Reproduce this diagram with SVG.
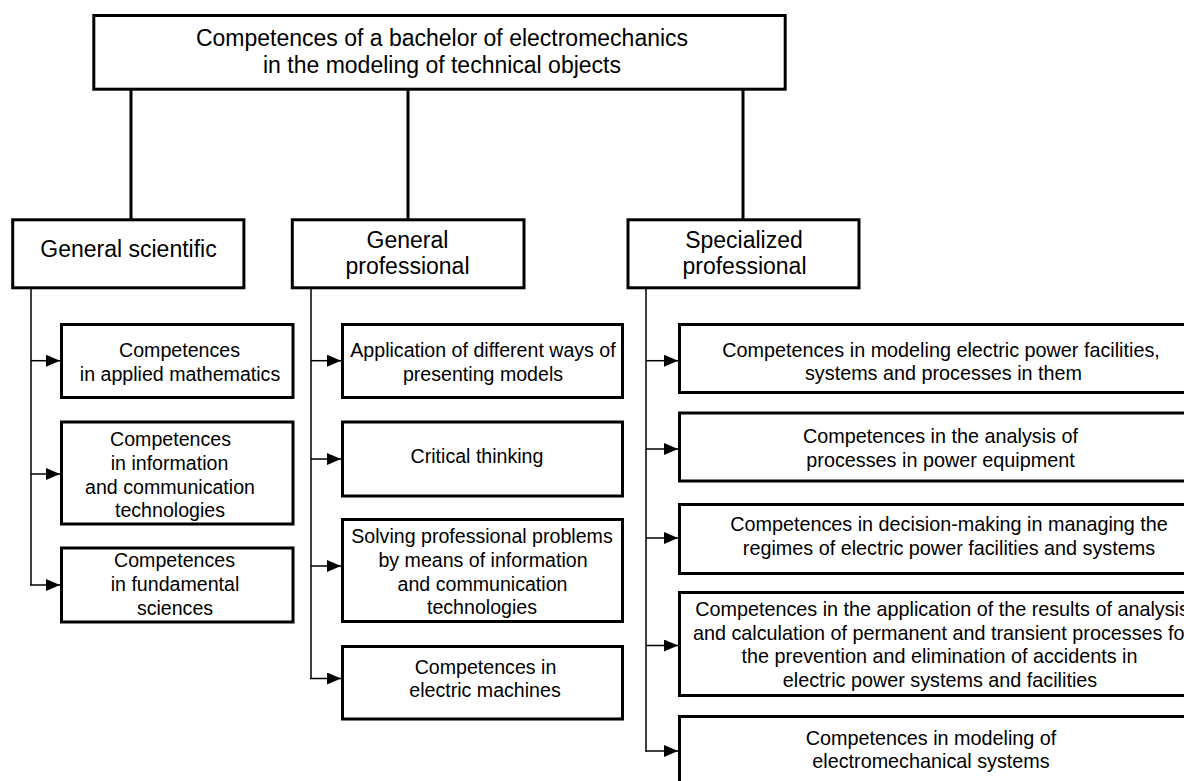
<svg xmlns="http://www.w3.org/2000/svg" width="1184" height="781" viewBox="0 0 1184 781">
<style>
  .box{fill:#fff;stroke:#000;stroke-width:3}
  .t{font-family:"Liberation Sans",Arial,sans-serif;fill:#000;text-anchor:middle}
  .big{font-size:23px}
  .sm{font-size:19.6px}
  .rt{font-size:19.8px}
  .trunk{stroke:#000;stroke-width:3;fill:none}
  .br{stroke:#000;stroke-width:1.5;fill:none}
  .ar{stroke:#000;stroke-width:1.5;fill:none;marker-end:url(#ah)}
</style>
<defs>
  <marker id="ah" markerUnits="userSpaceOnUse" markerWidth="14" markerHeight="12" refX="14" refY="6" orient="auto">
    <path d="M0,0 L14,6 L0,12 z" fill="#000"/>
  </marker>
</defs>
<rect width="1184" height="781" fill="#fff"/>
<g id="connectors">
  <line class="trunk" x1="131" y1="90" x2="131" y2="219"/>
  <line class="trunk" x1="408" y1="90" x2="408" y2="219"/>
  <line class="trunk" x1="743" y1="90" x2="743" y2="219"/>
  <line class="br" x1="31" y1="289" x2="31" y2="585.5"/>
  <line class="br" x1="311" y1="289" x2="311" y2="679"/>
  <line class="br" x1="646" y1="289" x2="646" y2="751.5"/>
  <path class="ar" d="M31,360.7 H60"/>
  <path class="ar" d="M31,474 H60"/>
  <path class="ar" d="M30.25,585 H60"/>
  <path class="ar" d="M311,360.7 H341"/>
  <path class="ar" d="M311,459 H341"/>
  <path class="ar" d="M311,566 H341"/>
  <path class="ar" d="M310.25,678.5 H341"/>
  <path class="ar" d="M646,360.7 H678"/>
  <path class="ar" d="M646,449 H678"/>
  <path class="ar" d="M646,538 H678"/>
  <path class="ar" d="M646,645.5 H678"/>
  <path class="ar" d="M645.25,751 H678"/>
</g>
<g id="root">
  <rect class="box" x="93.8" y="15.5" width="691.4" height="73.7"/>
  <text class="t big" x="442" y="46">Competences of a bachelor of electromechanics</text>
  <text class="t big" x="442" y="73">in the modeling of technical objects</text>
</g>
<g id="general-scientific">
  <rect class="box" x="12.7" y="219.8" width="231.2" height="68"/>
  <text class="t big" x="128.5" y="257">General scientific</text>
</g>
<g id="general-professional">
  <rect class="box" x="292.3" y="219.8" width="231.7" height="68"/>
  <text class="t big" x="407.5" y="247.5">General</text>
  <text class="t big" x="407.5" y="274">professional</text>
</g>
<g id="specialized-professional">
  <rect class="box" x="628" y="219.8" width="231" height="68"/>
  <text class="t big" x="744" y="247.5">Specialized</text>
  <text class="t big" x="744.5" y="274">professional</text>
</g>
<g id="gs-1">
  <rect class="box" x="61.5" y="324.5" width="231.5" height="73"/>
  <text class="t sm" x="179.5" y="357">Competences</text>
  <text class="t sm" x="180" y="381">in applied mathematics</text>
</g>
<g id="gs-2">
  <rect class="box" x="61.5" y="422" width="231.5" height="102"/>
  <text class="t sm" x="170.5" y="446">Competences</text>
  <text class="t sm" x="169.5" y="470">in information</text>
  <text class="t sm" x="170" y="493.5">and communication</text>
  <text class="t sm" x="170" y="517">technologies</text>
</g>
<g id="gs-3">
  <rect class="box" x="61.5" y="548" width="231.5" height="74"/>
  <text class="t sm" x="174.5" y="567">Competences</text>
  <text class="t sm" x="175" y="591">in fundamental</text>
  <text class="t sm" x="175" y="614.5">sciences</text>
</g>
<g id="gp-1">
  <rect class="box" x="342.5" y="324.5" width="280" height="73"/>
  <text class="t sm" x="483" y="357.3">Application of different ways of</text>
  <text class="t sm" x="483" y="381">presenting models</text>
</g>
<g id="gp-2">
  <rect class="box" x="342.5" y="422" width="280" height="74"/>
  <text class="t sm" x="477" y="462.7">Critical thinking</text>
</g>
<g id="gp-3">
  <rect class="box" x="342.5" y="519.5" width="280" height="102"/>
  <text class="t sm" x="482" y="543.3">Solving professional problems</text>
  <text class="t sm" x="483" y="566.7">by means of information</text>
  <text class="t sm" x="482.5" y="590.7">and communication</text>
  <text class="t sm" x="482" y="614.3">technologies</text>
</g>
<g id="gp-4">
  <rect class="box" x="342.5" y="646.5" width="280" height="72.5"/>
  <text class="t sm" x="485.5" y="674">Competences in</text>
  <text class="t sm" x="485" y="697">electric machines</text>
</g>
<g id="sp-1">
  <rect class="box" x="679.5" y="324.5" width="522" height="68"/>
  <text class="t rt" x="941" y="356.7">Competences in modeling electric power facilities,</text>
  <text class="t rt" x="943.5" y="380">systems and processes in them</text>
</g>
<g id="sp-2">
  <rect class="box" x="679.5" y="413" width="522" height="68"/>
  <text class="t rt" x="940.5" y="443.3">Competences in the analysis of</text>
  <text class="t rt" x="940.5" y="466.5">processes in power equipment</text>
</g>
<g id="sp-3">
  <rect class="box" x="679.5" y="504.5" width="522" height="69"/>
  <text class="t rt" x="949" y="531">Competences in decision-making in managing the</text>
  <text class="t rt" x="949" y="555">regimes of electric power facilities and systems</text>
</g>
<g id="sp-4">
  <rect class="box" x="679.5" y="592.5" width="522" height="103"/>
  <text class="t rt" x="942" y="616">Competences in the application of the results of analysis</text>
  <text class="t rt" x="942" y="639.5">and calculation of permanent and transient processes for</text>
  <text class="t rt" x="939.5" y="663.3">the prevention and elimination of accidents in</text>
  <text class="t rt" x="940" y="686.7">electric power systems and facilities</text>
</g>
<g id="sp-5">
  <rect class="box" x="679.5" y="716.5" width="522" height="80"/>
  <text class="t rt" x="931" y="745">Competences in modeling of</text>
  <text class="t rt" x="931" y="768.3">electromechanical systems</text>
</g>
</svg>
